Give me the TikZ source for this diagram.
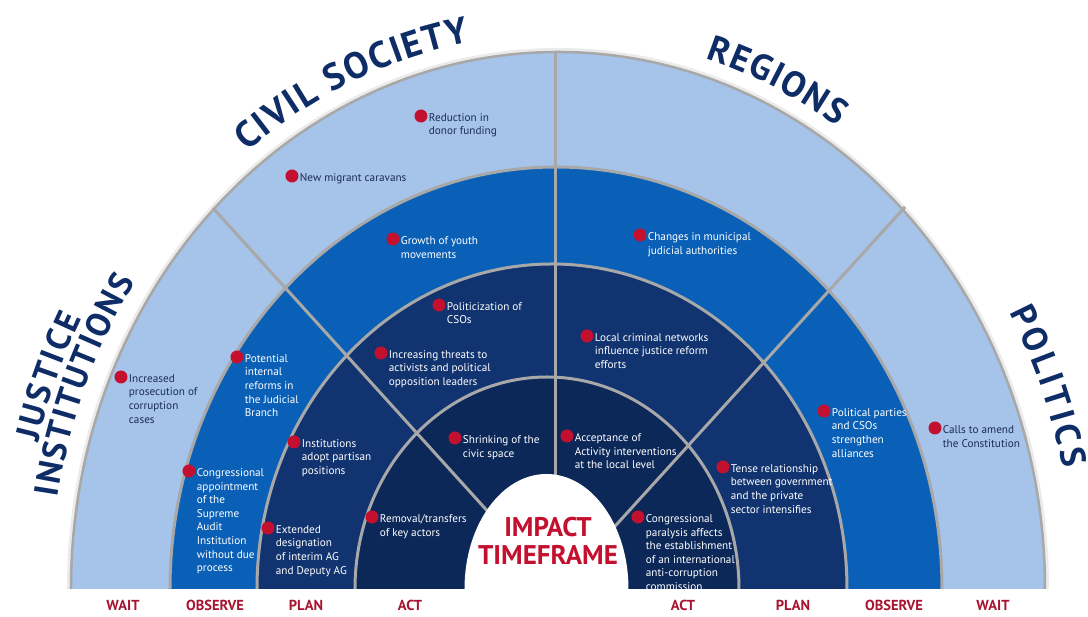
\documentclass[tikz,border=0pt]{standalone}
\usepackage{fontspec}
\setmainfont{PT Sans}
\usetikzlibrary{decorations.text}

\definecolor{waitblue}{HTML}{A6C3E9}
\definecolor{observeblue}{HTML}{0A60B6}
\definecolor{planblue}{HTML}{11336F}
\definecolor{actblue}{HTML}{0B2859}
\definecolor{titlenavy}{HTML}{0E2C66}
\definecolor{dotred}{HTML}{C4102F}
\definecolor{labelred}{HTML}{A8132F}
\definecolor{ringgray}{HTML}{A8A8A8}
\definecolor{darktext}{HTML}{1C2C5A}

\begin{document}
\begin{tikzpicture}[x=1pt, y=1pt,
    riskdot/.style ={circle, fill=dotred, inner sep=0pt, minimum size=13pt},
    risktext/.style ={anchor=north west, inner sep=0pt, align=left, text=white,
        font=\fontsize{11.2}{13.6}\selectfont},
    lighttext/.style ={risktext, text=darktext},
    stagelabel/.style ={text=labelred, font=\fontsize{14.5}{16}\selectfont\bfseries},
    ringline/.style ={ringgray, line width=3pt},
    titletext/.style 2 args ={decorate, decoration={text along path, text align=fit to path,
        text={|\fontsize{#2}{40}\selectfont\bfseries\color{titlenavy}|#1}}}]
   \useasboundingbox (-558,-28) rectangle (530,589);

   % rings, outside in
   \draw[black!8, line width=8pt] (487,0) arc[start angle=0, end angle=180, x radius=487pt, y radius=537pt];
   \fill[waitblue] (487,0) arc[start angle=0, end angle=180, x radius=487pt, y radius=537pt] -- cycle;
   \fill[observeblue] (384,0) arc[start angle=0, end angle=180, x radius=386pt, y radius=422pt] -- cycle;
   \fill[planblue] (289,0) arc[start angle=0, end angle=180, x radius=295pt, y radius=325pt] -- cycle;
   \fill[actblue] (181,0) arc[start angle=0, end angle=180, x radius=192pt, y radius=212pt] -- cycle;

   \coordinate (hub) at (0,0);
   \coordinate (topend) at (-2,537);
   \coordinate (topfoot) at (-2,0);
   \coordinate (leftend) at (-345,381);
   \coordinate (rightend) at (347,382);
   \draw[ringline] (topend) -- (topfoot);
   \draw[ringline] (leftend) -- (hub);
   \draw[ringline] (rightend) -- (hub);

   \draw[ringline, line width=2.5pt] (487,0) arc[start angle=0, end angle=180, x radius=487pt, y radius=537pt];
   \draw[ringline] (384,0) arc[start angle=0, end angle=180, x radius=386pt, y radius=422pt];
   \draw[ringline] (289,0) arc[start angle=0, end angle=180, x radius=295pt, y radius=325pt];
   \draw[ringline] (181,0) arc[start angle=0, end angle=180, x radius=192pt, y radius=212pt];
   \fill[white] (70.5,-3) -- (70.5,0) arc[start angle=0, end angle=180, x radius=82pt, y radius=115pt] -- (-93.5,-3) -- cycle;

   \node[align=center, text=dotred, font=\fontsize{27}{28}\selectfont\bfseries] (impact) at (-10,48) {IMPACT\\TIMEFRAME};

   % sector titles
   \path[titletext={CIVIL SOCIETY}{37}] (128:505pt and 555pt) arc[start angle=128, end angle=100, x radius=505pt, y radius=555pt];
   \path[titletext={REGIONS}{36}] (73:505pt and 555pt) arc[start angle=73, end angle=56.5, x radius=505pt, y radius=555pt];
   \path[titletext={INSTITUTIONS}{34}] (170.5:507pt and 557pt) arc[start angle=170.5, end angle=146.5, x radius=507pt, y radius=557pt];
   \path[titletext={JUSTICE}{34}] (165.5:537pt and 587pt) arc[start angle=165.5, end angle=152.5, x radius=537pt, y radius=587pt];
   \path[titletext={POLITICS}{35}] (29.2:517pt and 567pt) arc[start angle=29.2, end angle=12.3, x radius=517pt, y radius=567pt];

   % stages
   \node[stagelabel] (waitL) at (-435,-16) {WAIT};
   \node[stagelabel] (observeL) at (-343,-16) {OBSERVE};
   \node[stagelabel] (planL) at (-252,-16) {PLAN};
   \node[stagelabel] (actL) at (-148,-16) {ACT};
   \node[stagelabel] (actR) at (125,-16) {ACT};
   \node[stagelabel] (planR) at (235,-16) {PLAN};
   \node[stagelabel] (observeR) at (336,-16) {OBSERVE};
   \node[stagelabel] (waitR) at (435,-16) {WAIT};

   % risks
   \node[riskdot] (d1) at (-137,473) {};
   \node[lighttext] (t1) at ([xshift=3pt,yshift=-2pt]d1.north east) {Reduction in\\donor funding};
   \node[riskdot] (d2) at (-266,413) {};
   \node[lighttext] (t2) at ([xshift=3pt,yshift=-2pt]d2.north east) {New migrant caravans};
   \node[riskdot] (d3) at (-165,350) {};
   \node[risktext] (t3) at ([xshift=3pt,yshift=-2pt]d3.north east) {Growth of youth\\movements};
   \node[riskdot] (d4) at (-119,284) {};
   \node[risktext] (t4) at ([xshift=3pt,yshift=-2pt]d4.north east) {Politicization of\\CSOs};
   \node[riskdot] (d5) at (-177,236) {};
   \node[risktext] (t5) at ([xshift=3pt,yshift=-2pt]d5.north east) {Increasing threats to\\activists and political\\opposition leaders};
   \node[riskdot] (d6) at (-103,151) {};
   \node[risktext] (t6) at ([xshift=3pt,yshift=-2pt]d6.north east) {Shrinking of the\\civic space};
   \node[riskdot] (d7) at (-186,72) {};
   \node[risktext] (t7) at ([xshift=3pt,yshift=-2pt]d7.north east) {Removal/transfers\\of key actors};
   \node[riskdot] (d8) at (-321,232) {};
   \node[risktext] (t8) at ([xshift=3pt,yshift=-2pt]d8.north east) {Potential\\internal\\reforms in\\the Judicial\\Branch};
   \node[riskdot] (d9) at (-264,147) {};
   \node[risktext] (t9) at ([xshift=3pt,yshift=-2pt]d9.north east) {Institutions\\adopt partisan\\positions};
   \node[riskdot] (d10) at (-290,61) {};
   \node[risktext] (t10) at ([xshift=3pt,yshift=-2pt]d10.north east) {Extended\\designation\\of interim AG\\and Deputy AG};
   \node[riskdot] (d11) at (-369,118) {};
   \node[risktext] (t11) at ([xshift=3pt,yshift=-2pt]d11.north east) {Congressional\\appointment\\of the\\Supreme\\Audit\\Institution\\without due\\process};
   \node[riskdot] (d12) at (-437,212) {};
   \node[lighttext] (t12) at ([xshift=3pt,yshift=-2pt]d12.north east) {Increased\\prosecution of\\corruption\\cases};
   \node[riskdot] (d13) at (82,354) {};
   \node[risktext] (t13) at ([xshift=3pt,yshift=-2pt]d13.north east) {Changes in municipal\\judicial authorities};
   \node[riskdot] (d14) at (29,253) {};
   \node[risktext] (t14) at ([xshift=3pt,yshift=-2pt]d14.north east) {Local criminal networks\\influence justice reform\\efforts};
   \node[riskdot] (d15) at (9,153) {};
   \node[risktext] (t15) at ([xshift=3pt,yshift=-2pt]d15.north east) {Acceptance of\\Activity interventions\\at the local level};
   \node[riskdot] (d16) at (80,72) {};
   \node[risktext] (t16) at ([xshift=3pt,yshift=-2pt]d16.north east) {Congressional\\paralysis affects\\the establishment\\of an international\\anti-corruption\\commission};
   \node[riskdot] (d17) at (165,122) {};
   \node[risktext] (t17) at ([xshift=3pt,yshift=-2pt]d17.north east) {Tense relationship\\between government\\and the private\\sector intensifies};
   \node[riskdot] (d18) at (266,178) {};
   \node[risktext] (t18) at ([xshift=3pt,yshift=-2pt]d18.north east) {Political parties\\and CSOs\\strengthen\\alliances};
   \node[riskdot] (d19) at (377,161) {};
   \node[lighttext] (t19) at ([xshift=3pt,yshift=-2pt]d19.north east) {Calls to amend\\the Constitution};
\end{tikzpicture}
\end{document}
